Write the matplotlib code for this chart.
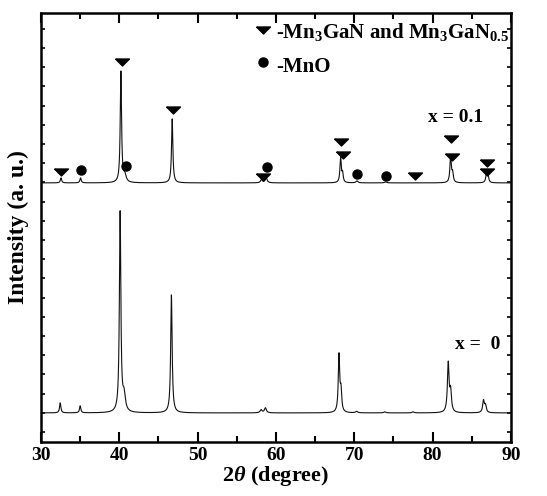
import matplotlib
matplotlib.use("Agg")
import matplotlib.pyplot as plt
import numpy as np

plt.rcParams["font.family"] = "Liberation Serif"
plt.rcParams["font.weight"] = "bold"
plt.rcParams["mathtext.fontset"] = "custom"
plt.rcParams["mathtext.rm"] = "Liberation Serif:bold"
plt.rcParams["mathtext.bf"] = "Liberation Serif:bold"
plt.rcParams["mathtext.it"] = "Liberation Serif:italic"

# peak lists: position (deg), height (a.u.), FWHM (deg)
pos_x0 = [32.45, 35.0, 40.1, 40.6, 46.65, 58.1, 58.65, 68.05, 68.3, 70.3, 73.9, 77.5, 82.0, 82.3, 86.5, 86.75]
h_x0 = [10, 7, 200, 16, 118, 3, 5, 57, 20, 1.5, 1, 1, 49, 20, 12, 7]
w_x0 = [0.2, 0.2, 0.22, 0.4, 0.22, 0.3, 0.3, 0.22, 0.22, 0.3, 0.3, 0.3, 0.25, 0.25, 0.25, 0.25]

pos_x01 = [32.55, 35.05, 40.2, 40.7, 46.75, 58.15, 58.75, 68.25, 68.5, 70.35, 74.0, 82.3, 82.55, 86.9, 87.1]
h_x01 = [5, 5, 111, 7, 64, 3, 5, 25, 9, 2, 1, 25, 9, 11, 5]
w_x01 = [0.2, 0.2, 0.2, 0.4, 0.2, 0.3, 0.3, 0.2, 0.2, 0.3, 0.3, 0.22, 0.22, 0.22, 0.22]

base_x0, base_x01 = 29, 259

# phase markers on the x = 0.1 pattern
tri_x = [32.6, 40.4, 46.9, 58.3, 68.3, 68.5, 77.7, 82.3, 82.5, 87.0, 87.0]
tri_y = [270, 380, 332, 265, 300, 287, 266, 303, 285, 279, 270]
dot_x = [35.1, 40.9, 58.9, 70.3, 74.0]
dot_y = [272, 276, 275, 268, 266]

# flat, wide down-pointing triangle as in the original
tri = [(-1, 0.5), (1, 0.5), (0, -0.5), (-1, 0.5)]


def pattern(tt, pos, h, w, base):
    y = np.full_like(tt, base, dtype=float)
    for c, a, fw in zip(pos, h, w):
        y += a / (1 + ((tt - c) / (fw / 2)) ** 2)
    return y


tt = np.linspace(30, 90, 6000)

fig = plt.figure(figsize=(5.47, 4.96), dpi=100)
ax = fig.add_axes([0.075, 0.109, 0.859, 0.865])

ax.plot(tt, pattern(tt, pos_x0, h_x0, w_x0, base_x0), color="#111111", lw=0.8)
ax.plot(tt, pattern(tt, pos_x01, h_x01, w_x01, base_x01), color="#111111", lw=0.8)

ax.plot(tri_x, tri_y, marker=tri, color="black", ms=10, ls="none")
ax.plot(dot_x, dot_y, "o", color="black", ms=6.5, ls="none")

# legend drawn by hand, like the original
ax.plot([58.4], [412], marker=tri, color="black", ms=10)
ax.plot([58.4], [380], "o", color="black", ms=6.5)
ax.text(60.0, 410, r"-Mn$_3$GaN and Mn$_3$GaN$_{0.5}$", fontsize=15, va="center")
ax.text(60.0, 375, "-MnO", fontsize=15, va="center")

ax.text(79.4, 324, "x = 0.1", fontsize=14, va="center")
ax.text(82.9, 97, "x =  0", fontsize=14, va="center")

ax.set_xlim(30, 90)
ax.set_ylim(0, 429)
ax.set_xticks(np.arange(30, 91, 10))
ax.set_xticks(np.arange(35, 90, 10), minor=True)
ax.set_yticks(np.arange(10, 425, 19.2))
ax.set_yticklabels([])
ax.tick_params(axis="x", which="major", direction="in", length=7, width=1.5, labelsize=14, pad=4)
ax.tick_params(axis="x", which="minor", direction="in", length=4, width=1.5)
ax.tick_params(axis="x", which="both", top=True)
ax.tick_params(axis="y", direction="in", length=3, width=1.2, left=True, right=True)
for lab in ax.get_xticklabels():
    lab.set_fontweight("bold")
for s in ax.spines.values():
    s.set_linewidth(1.8)

ax.set_xlabel(r"2$\theta$ (degree)", fontsize=16, fontweight="bold", labelpad=0)
ax.set_ylabel("Intensity (a. u.)", fontsize=17, fontweight="bold", labelpad=5)

fig.savefig("out.png", dpi=100, facecolor="white")
